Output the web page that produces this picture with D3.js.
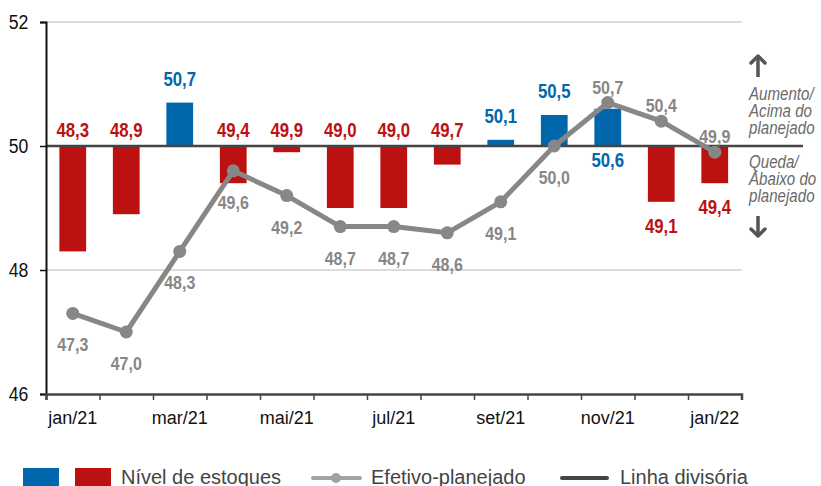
<!DOCTYPE html>
<html>
<head>
<meta charset="utf-8">
<script src="https://cdn.jsdelivr.net/npm/d3@7"></script>
<style>
  body { margin: 0; background: #fff; }
  svg { font-family: "Liberation Sans", Arial, sans-serif; }
</style>
</head>
<body>
<script>
// Data
const months = ["jan/21", "fev/21", "mar/21", "abr/21", "mai/21", "jun/21", "jul/21",
  "ago/21", "set/21", "out/21", "nov/21", "dez/21", "jan/22"];
const stockLevel = [48.3, 48.9, 50.7, 49.4, 49.9, 49.0, 49.0, 49.7, 50.1, 50.5, 50.6, 49.1, 49.4];
const actualVsPlanned = [47.3, 47.0, 48.3, 49.6, 49.2, 48.7, 48.7, 48.6, 49.1, 50.0, 50.7, 50.4, 49.9];
const monthLabels = ["jan/21", "mar/21", "mai/21", "jul/21", "set/21", "nov/21", "jan/22"];
const yTicks = [46, 48, 50, 52];
const divider = 50;
const legendLabels = ["Nível de estoques", "Efetivo-planejado", "Linha divisória"];
const upNote = ["Aumento/", "Acima do", "planejado"];
const downNote = ["Queda/", "Abaixo do", "planejado"];

// Layout
const W = 821, H = 486;
const LEFT = 46, RIGHT = 741.5, TOP = 22, BOTTOM = 394;
const BLUE = "#0067ad", RED = "#bc1111", GRAY = "#878787", DARK = "#454545";
const NARROW = 0.84; // squeeze glyphs to look like a condensed face

const fmt = v => d3.format(".1f")(v).replace(".", ",");

const svg = d3.select("body").append("svg")
  .attr("width", W)
  .attr("height", H);

const x = d3.scaleBand()
  .domain(months)
  .range([LEFT, RIGHT])
  .paddingInner(0.5)
  .paddingOuter(0.25);

const xEdge = d3.scaleLinear()
  .domain([0, months.length])
  .range([LEFT, RIGHT]);

const y = d3.scaleLinear()
  .domain([46, 52])
  .range([BOTTOM, TOP]);

const cx = m => x(m) + x.bandwidth() / 2;

// Gridlines
svg.append("g")
  .selectAll("line")
  .data(yTicks.filter(t => t !== 46 && t !== divider))
  .join("line")
  .attr("x1", LEFT).attr("x2", RIGHT)
  .attr("y1", d => y(d)).attr("y2", d => y(d))
  .attr("stroke", "#b8b8b8")
  .attr("stroke-width", 1);

// Bars
svg.append("g")
  .selectAll("rect")
  .data(stockLevel)
  .join("rect")
  .attr("x", (d, i) => x(months[i]))
  .attr("width", x.bandwidth())
  .attr("y", d => y(Math.max(d, divider)))
  .attr("height", d => Math.abs(y(d) - y(divider)))
  .attr("fill", d => d >= divider ? BLUE : RED);

// Divider line
svg.append("line")
  .attr("x1", LEFT).attr("x2", 803)
  .attr("y1", y(divider)).attr("y2", y(divider))
  .attr("stroke", DARK)
  .attr("stroke-width", 2.5);

// Y axis
const yAxis = svg.append("g")
  .attr("transform", `translate(${LEFT},0)`)
  .call(d3.axisLeft(y).tickValues(yTicks).tickSize(6).tickPadding(15).tickFormat(d3.format("d")));
yAxis.select(".domain").attr("stroke", "#111").attr("stroke-width", 2);
yAxis.selectAll(".tick line").attr("stroke", "#111").attr("stroke-width", 1.5);
yAxis.selectAll("text")
  .attr("font-size", 21).attr("fill", "#111").attr("font-family", "inherit")
  .attr("transform", `scale(${NARROW},1)`);

// X axis ticks at band edges
const xAxis = svg.append("g")
  .attr("transform", `translate(0,${BOTTOM})`)
  .call(d3.axisBottom(xEdge).tickValues(d3.range(months.length + 1)).tickSize(6).tickFormat(""));
xAxis.select(".domain").attr("stroke", DARK).attr("stroke-width", 2.5);
xAxis.selectAll(".tick line").attr("stroke", DARK).attr("stroke-width", 1.5);

// X labels
const xLab = svg.append("g")
  .attr("transform", `translate(0,${BOTTOM})`)
  .call(d3.axisBottom(x).tickValues(monthLabels).tickSize(0).tickPadding(17));
xLab.select(".domain").remove();
xLab.selectAll("text").attr("font-size", 18).attr("fill", "#111").attr("font-family", "inherit");

// Line
const line = d3.line()
  .x((d, i) => cx(months[i]))
  .y(d => y(d));

svg.append("path")
  .datum(actualVsPlanned)
  .attr("fill", "none")
  .attr("stroke", GRAY)
  .attr("stroke-width", 5)
  .attr("stroke-linejoin", "round")
  .attr("d", line);

svg.append("g")
  .selectAll("circle")
  .data(actualVsPlanned)
  .join("circle")
  .attr("cx", (d, i) => cx(months[i]))
  .attr("cy", d => y(d))
  .attr("r", 6.5)
  .attr("fill", GRAY);

// Bar labels
svg.append("g")
  .selectAll("text")
  .data(stockLevel)
  .join("text")
  .attr("transform", (d, i) => {
    let ty;
    if (i >= 10) ty = d >= divider ? y(divider) + 21 : y(d) + 31;
    else ty = d >= divider ? y(d) - 17 : y(divider) - 9;
    return `translate(${cx(months[i])},${ty}) scale(${NARROW},1)`;
  })
  .attr("text-anchor", "middle")
  .attr("font-size", 20)
  .attr("font-weight", "bold")
  .attr("fill", d => d >= divider ? BLUE : RED)
  .text(fmt);

// Line labels
svg.append("g")
  .selectAll("text")
  .data(actualVsPlanned)
  .join("text")
  .attr("transform", (d, i) => {
    const ty = i >= 10 ? y(d) - 9 : y(d) + 38;
    return `translate(${cx(months[i])},${ty}) scale(${NARROW},1)`;
  })
  .attr("text-anchor", "middle")
  .attr("font-size", 19)
  .attr("font-weight", "bold")
  .attr("fill", GRAY)
  .text(fmt);

// Right side notes
const note = svg.append("g")
  .attr("font-size", 18)
  .attr("font-style", "italic")
  .attr("fill", "#6a6a6a");
note.selectAll(".up")
  .data(upNote)
  .join("text")
  .attr("class", "up")
  .attr("transform", (d, i) => `translate(749,${100 + i * 17}) scale(${NARROW},1)`)
  .text(d => d);
note.selectAll(".down")
  .data(downNote)
  .join("text")
  .attr("class", "down")
  .attr("transform", (d, i) => `translate(749,${168 + i * 17}) scale(${NARROW},1)`)
  .text(d => d);

// Arrows
const arrow = (x0, y0, y1) => {
  const dir = Math.sign(y1 - y0);
  svg.append("line")
    .attr("x1", x0).attr("x2", x0)
    .attr("y1", y0).attr("y2", y1 - dir * 2)
    .attr("stroke", "#555").attr("stroke-width", 3.5);
  svg.append("path")
    .attr("d", `M${x0 - 7},${y1 - dir * 7}L${x0},${y1}L${x0 + 7},${y1 - dir * 7}`)
    .attr("fill", "none")
    .attr("stroke", "#555")
    .attr("stroke-width", 3.5)
    .attr("stroke-linecap", "round")
    .attr("stroke-linejoin", "round");
};
arrow(758, 77, 56);
arrow(758, 216, 236);

// Legend
const lg = svg.append("g").attr("font-size", 20).attr("fill", "#444");
lg.append("rect").attr("x", 23).attr("y", 468).attr("width", 36).attr("height", 20).attr("fill", BLUE);
lg.append("rect").attr("x", 75).attr("y", 468).attr("width", 36).attr("height", 20).attr("fill", RED);
lg.append("text").attr("x", 121).attr("y", 484).text(legendLabels[0]);
lg.append("line").attr("x1", 313).attr("x2", 360).attr("y1", 478).attr("y2", 478)
  .attr("stroke", "#a3a3a3").attr("stroke-width", 4).attr("stroke-linecap", "round");
lg.append("circle").attr("cx", 336).attr("cy", 478).attr("r", 5).attr("fill", "#a3a3a3");
lg.append("text").attr("x", 371).attr("y", 484).text(legendLabels[1]);
lg.append("line").attr("x1", 562).attr("x2", 607).attr("y1", 478).attr("y2", 478)
  .attr("stroke", DARK).attr("stroke-width", 4).attr("stroke-linecap", "round");
lg.append("text").attr("x", 620).attr("y", 484).text(legendLabels[2]);
</script>
</body>
</html>
